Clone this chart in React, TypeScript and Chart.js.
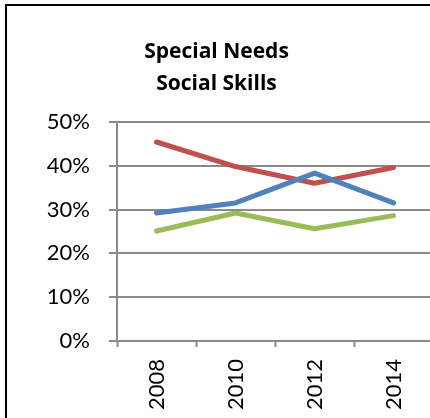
import React, { useEffect, useRef } from "react";
import { Chart, registerables } from "chart.js";

Chart.register(...registerables);

const titleLines = ["Special Needs", "Social Skills"];
const years = ["2008", "2010", "2012", "2014"];
const blueSeries = [29.2, 31.5, 38.3, 31.5];
const redSeries = [45.4, 39.8, 36.0, 39.6];
const greenSeries = [25.1, 29.2, 25.6, 28.6];
const yTicks = [0, 10, 20, 30, 40, 50];

const FONT = "Lato, 'Open Sans', sans-serif";
const TITLE_FONT = "'Open Sans', Lato, sans-serif";
const GRID = "#8a8a8a";

export default function App() {
  const ref = useRef<HTMLCanvasElement | null>(null);

  useEffect(() => {
    if (!ref.current) return;
    const chart = new Chart(ref.current, {
      type: "line",
      data: {
        labels: years,
        datasets: [
          { label: "Blue", data: blueSeries, borderColor: "#4F81BD" },
          { label: "Red", data: redSeries, borderColor: "#C0504D" },
          { label: "Green", data: greenSeries, borderColor: "#9BBB59" },
        ].map((d) => ({
          ...d,
          borderWidth: 5,
          pointRadius: 0,
          tension: 0,
          fill: false,
          borderCapStyle: "round" as const,
          borderJoinStyle: "round" as const,
        })),
      },
      options: {
        responsive: false,
        animation: false,
        events: [],
        layout: { padding: { left: 0, right: 17, top: 0, bottom: 0 } },
        plugins: {
          legend: { display: false },
          tooltip: { enabled: false },
          title: {
            display: true,
            text: titleLines,
            color: "#000",
            font: { family: TITLE_FONT, size: 21, weight: "bold", lineHeight: 1.52 },
            padding: { top: 36, bottom: 22 },
          },
        },
        scales: {
          x: {
            type: "category",
            offset: true,
            grid: {
              offset: true,
              drawOnChartArea: false,
              drawTicks: true,
              tickLength: 6,
              tickWidth: 2,
              tickColor: GRID,
            },
            border: { display: true, color: GRID, width: 2 },
            ticks: {
              autoSkip: false,
              minRotation: 90,
              maxRotation: 90,
              padding: 12,
              color: "#000",
              font: { family: FONT, size: 22 },
            },
            afterFit: (s: any) => {
              s.height = 77;
            },
          },
          y: {
            min: 0,
            max: 50,
            afterBuildTicks: (s: any) => {
              s.ticks = yTicks.map((v) => ({ value: v }));
            },
            grid: {
              color: GRID,
              lineWidth: 2,
              drawTicks: true,
              tickLength: 8,
              tickColor: GRID,
            },
            border: { display: true, color: GRID, width: 2 },
            ticks: {
              padding: 19,
              color: "#000",
              font: { family: FONT, size: 22 },
              callback: (v: any) => v + "%",
            },
            afterFit: (s: any) => {
              s.width = 117;
            },
          },
        },
      },
    });
    return () => chart.destroy();
  }, []);

  return (
    <div
      style={{
        position: "fixed",
        left: 0,
        top: 0,
        width: 430,
        height: 418,
        overflow: "hidden",
        background: "#fff",
      }}
    >
      <div
        style={{
          position: "absolute",
          left: 5,
          top: 4,
          width: 470,
          height: 470,
          border: "2px solid #000",
          boxSizing: "border-box",
        }}
      />
      <canvas
        ref={ref}
        width={450}
        height={418}
        style={{ position: "absolute", left: 0, top: 0, width: 450, height: 418 }}
      />
    </div>
  );
}
